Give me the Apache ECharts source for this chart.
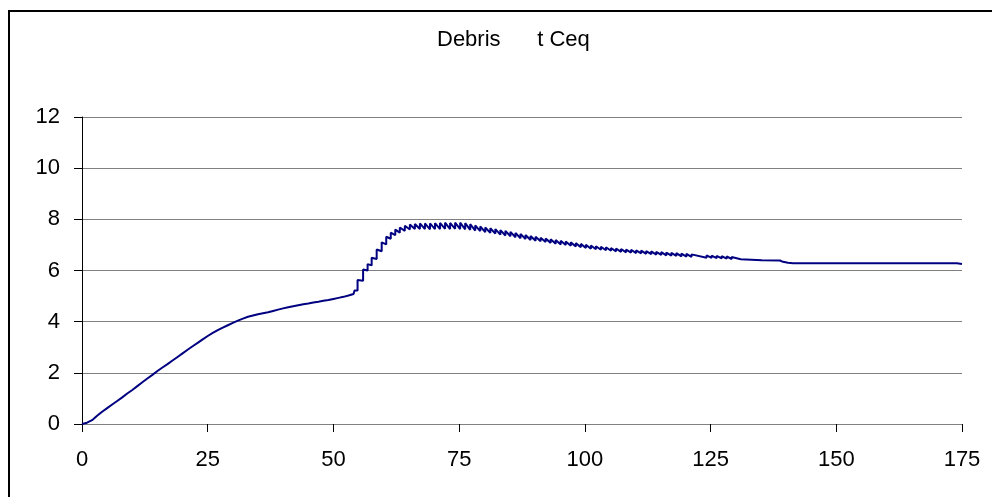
<!DOCTYPE html>
<html>
<head>
<meta charset="utf-8">
<script src="https://cdn.jsdelivr.net/npm/echarts@6/dist/echarts.min.js"></script>
<style>html,body{margin:0;padding:0;background:#fff;}#c{width:992px;height:497px;}</style>
</head>
<body>
<div id="c"></div>
<script>
const chartTitle = 'Debris      t Ceq';
const xTicks = [0, 25, 50, 75, 100, 125, 150, 175];
const yTicks = [0, 2, 4, 6, 8, 10, 12];

// time (x) of each plotted point; repeated times are vertical jumps
const timeValues = [
  0,1,2,3,4,5,6,7,8,9,10,11,12,13,14,15,16,17,18,19,20,21,22,23,24,25,26,27,28,29,
  30,31,32,33,34,35,36,37,38,39,40,41,42,43,44,45,46,47,48,49,50,51,52,53,54,
  54.2,54.2, 54.8,54.8, 55.9,55.9, 56.8,56.8, 57.6,57.6, 58.6,58.6, 59.6,59.6,
  60.5,60.5, 61.4,61.4, 62.3,62.3, 63.2,63.2, 64.2,64.2, 65.2,65.2, 66.2,66.2,
  67.2,67.2, 68.2,68.2, 69.2,69.2, 70.2,70.2, 71.2,71.2, 72.2,72.2, 73.2,73.2,
  74.2,74.2, 75.2,75.2, 76.2,76.2, 77.2,77.2, 78.2,78.2, 79.2,79.2, 80.2,80.2,
  81.2,81.2, 82.2,82.2, 83.2,83.2, 84.2,84.2, 85.2,85.2, 86.2,86.2, 87.2,87.2,
  88.2,88.2, 89.2,89.2, 90.2,90.2, 91.2,91.2, 92.2,92.2, 93.2,93.2, 94.2,94.2,
  95.2,95.2, 96.2,96.2, 97.2,97.2, 98.2,98.2, 99.2,99.2, 100.2,100.2, 101.2,101.2,
  102.2,102.2, 103.2,103.2, 104.2,104.2, 105.2,105.2, 106.2,106.2, 107.2,107.2,
  108.2,108.2, 109.2,109.2, 110.2,110.2, 111.2,111.2, 112.2,112.2, 113.2,113.2,
  114.2,114.2, 115.2,115.2, 116.2,116.2, 117.2,117.2, 118.2,118.2, 119.2,119.2,
  120.2,120.2, 121.2,121.2, 124.2,124.2, 125.2,125.2, 126.2,126.2, 127.2,127.2,
  128.2,128.2, 129.2,129.2, 131,
  135.2,135.2, 138.8, 139.4,139.4, 140.4,140.4, 141.4, 174, 175
];

// Debris t Ceq value of each point
const debrisValues = [
  0,0.05,0.15,0.32,0.48,0.62,0.76,0.90,1.04,1.19,1.33,1.48,1.63,1.78,1.92,2.07,2.21,2.34,2.48,2.62,2.76,2.90,3.04,3.17,3.31,3.44,3.56,3.67,3.77,3.86,
  3.95,4.04,4.12,4.19,4.24,4.29,4.33,4.37,4.42,4.47,4.52,4.56,4.60,4.64,4.68,4.71,4.75,4.78,4.82,4.85,4.89,4.93,4.97,5.02,5.08,
  5.10,5.22, 5.22,5.63, 5.60,6.04, 6.00,6.25, 6.20,6.50, 6.45,6.82, 6.75,7.10,
  7.02,7.32, 7.24,7.48, 7.38,7.60, 7.48,7.68, 7.55,7.75, 7.60,7.80, 7.62,7.82,
  7.62,7.84, 7.62,7.84, 7.61,7.84, 7.62,7.85, 7.62,7.86, 7.63,7.87, 7.62,7.86,
  7.63,7.87, 7.62,7.87, 7.61,7.85, 7.59,7.81, 7.56,7.76, 7.54,7.72, 7.50,7.68,
  7.47,7.65, 7.44,7.62, 7.40,7.58, 7.37,7.55, 7.34,7.51, 7.30,7.47, 7.26,7.43,
  7.23,7.39, 7.19,7.35, 7.16,7.32, 7.14,7.28, 7.11,7.25, 7.08,7.22, 7.05,7.19,
  7.02,7.16, 7.00,7.13, 6.97,7.10, 6.94,7.07, 6.91,7.04, 6.88,7.01, 6.85,6.98,
  6.83,6.95, 6.81,6.93, 6.79,6.91, 6.77,6.88, 6.75,6.86, 6.73,6.84,
  6.71,6.82, 6.70,6.81, 6.68,6.79, 6.67,6.78, 6.65,6.76, 6.64,6.75,
  6.62,6.73, 6.61,6.72, 6.59,6.70, 6.58,6.69, 6.57,6.68, 6.55,6.66,
  6.54,6.65, 6.53,6.63, 6.50,6.59, 6.49,6.58, 6.48,6.57, 6.47,6.56,
  6.46,6.55, 6.45,6.53, 6.44,
  6.40,6.47, 6.39, 6.34,6.41, 6.30,6.37, 6.28, 6.28, 6.25
];

const seriesData = timeValues.map((t, i) => [t, debrisValues[i]]);
const font = '"Liberation Sans", Arial, sans-serif';

const chart = echarts.init(document.getElementById('c'), null, {renderer: 'canvas'});
chart.setOption({
  animation: false,
  backgroundColor: '#ffffff',
  title: {
    text: chartTitle,
    left: 437, top: 29, padding: 0,
    textStyle: {fontFamily: font, fontSize: 22, fontWeight: 'normal', color: '#000'}
  },
  graphic: [{
    type: 'rect', silent: true,
    shape: {x: 9, y: 11, width: 1000, height: 500},
    style: {fill: 'none', stroke: '#000', lineWidth: 2}
  }],
  grid: {left: 82, right: 30, top: 117, bottom: 73, containLabel: false},
  xAxis: {
    type: 'value', min: xTicks[0], max: xTicks[xTicks.length - 1], interval: 25,
    axisLine: {show: true, lineStyle: {color: '#808080', width: 1}},
    axisTick: {show: true, length: 8, lineStyle: {color: '#000'}},
    splitLine: {show: false},
    axisLabel: {fontFamily: font, fontSize: 22, color: '#000', margin: 25}
  },
  yAxis: {
    type: 'value', min: yTicks[0], max: yTicks[yTicks.length - 1], interval: 2,
    axisLine: {show: true, lineStyle: {color: '#000', width: 1}},
    axisTick: {show: true, length: 8, lineStyle: {color: '#000'}},
    splitLine: {show: true, lineStyle: {color: '#808080', width: 1}},
    axisLabel: {fontFamily: font, fontSize: 22, color: '#000', margin: 22}
  },
  series: [{
    type: 'line', data: seriesData, showSymbol: false, symbol: 'none',
    lineStyle: {color: '#000080', width: 2}, z: 5
  }]
});
</script>
</body>
</html>
